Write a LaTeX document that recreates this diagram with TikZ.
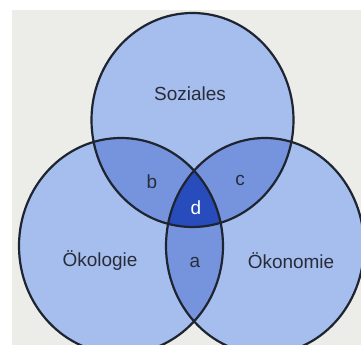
\documentclass[tikz,border=0pt]{standalone}
\usepackage{fontspec}
\setmainfont{Liberation Sans}
\usepackage{tikz}
\definecolor{paper}{RGB}{236,236,233}
\definecolor{onefill}{RGB}{166,190,238}
\definecolor{twofill}{RGB}{118,148,222}
\definecolor{threefill}{RGB}{40,76,188}
\definecolor{rimline}{RGB}{30,36,48}
\definecolor{labeltext}{RGB}{40,44,56}

\newcommand{\socialring}{(192.5,225) ellipse [x radius=101, y radius=107]}
\newcommand{\ecoring}{(121,99) ellipse [x radius=102, y radius=108]}
\newcommand{\econring}{(265,99) ellipse [x radius=99, y radius=108]}

\begin{document}
\begin{tikzpicture}[x=0.25mm, y=0.25mm,
    rim/.style={draw=rimline, line width=0.55mm},
    lbl/.style={labeltext, font=\fontsize{13.5}{15}\selectfont}]
  % Paper
  \useasboundingbox (0,0) rectangle (361,345);
  \fill[white] (0,0) rectangle (361,345);
  \fill[paper] (12,0) rectangle (361,335);
  % Single circles
  \fill[onefill] \socialring;
  \fill[onefill] \ecoring;
  \fill[onefill] \econring;
  % Overlap a
  \begin{scope}
    \clip \ecoring;
    \fill[twofill] \econring;
  \end{scope}
  % Overlaps b, c and d
  \begin{scope}
    \clip \socialring;
    \fill[twofill] \ecoring;
    \fill[twofill] \econring;
    \clip \ecoring;
    \fill[threefill] \econring;
  \end{scope}
  % Outlines
  \draw[rim] \socialring;
  \draw[rim] \ecoring;
  \draw[rim] \econring;
  % Labels
  \node[lbl] (soziales) at (190,251) {Soziales};
  \node[lbl] (oekologie) at (100,84) {Ökologie};
  \node[lbl] (oekonomie) at (291,84) {Ökonomie};
  \node[lbl] (a) at (195,83) {a};
  \node[lbl] (b) at (152,163) {b};
  \node[lbl] (c) at (240,165) {c};
  \node[lbl, white] (d) at (196,137) {d};
\end{tikzpicture}
\end{document}
